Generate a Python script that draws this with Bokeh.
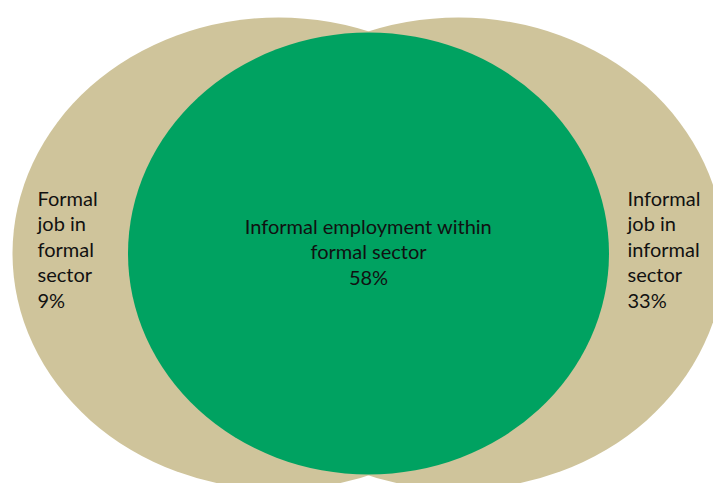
from bokeh.plotting import figure
from bokeh.models import Range1d, ColumnDataSource
from bokeh.core.properties import value
from bokeh.embed import file_html
from bokeh.resources import INLINE

# Data
categories = ["Formal job in formal sector",
              "Informal employment within formal sector",
              "Informal job in informal sector"]
label_lines = [["Formal", "job in", "formal", "sector"],
               ["Informal employment within", "formal sector"],
               ["Informal", "job in", "informal", "sector"]]
shares = [9, 58, 33]

# Layout (pixels)
W, H = 713, 483
p = figure(width=W, height=H, output_backend="svg", toolbar_location=None,
           x_range=Range1d(0, W), y_range=Range1d(H, 0), min_border=0)
p.axis.visible = False
p.grid.visible = False
p.outline_line_color = None
p.background_fill_color = "white"
p.border_fill_color = "white"

beige = "#CFC49B"
green = "#00A261"

# outer ellipses (left / right), then the central one
p.ellipse(x=[278, 458], y=[253, 253], width=[532, 532], height=[472, 472],
          fill_color=beige, line_color=None)
p.ellipse(x=[368], y=[253], width=[481], height=[442],
          fill_color=green, line_color=None)

font = value("Lato")
fs = "20px"
lh = 25.5

def draw(lines, x, ymid, align):
    n = len(lines)
    ys = [ymid + (i - (n - 1) / 2) * lh for i in range(n)]
    src = ColumnDataSource(dict(x=[x] * n, y=ys, t=lines))
    p.text(x="x", y="y", text="t", source=src, text_font=font,
           text_font_size=fs, text_align=align, text_baseline="middle",
           text_color="#111111")

draw(label_lines[0] + [f"{shares[0]}%"], 37, 248, "left")
draw(label_lines[1] + [f"{shares[1]}%"], 368, 250.5, "center")
draw(label_lines[2] + [f"{shares[2]}%"], 627, 248, "left")

open("out.html", "w").write(file_html(p, INLINE))
